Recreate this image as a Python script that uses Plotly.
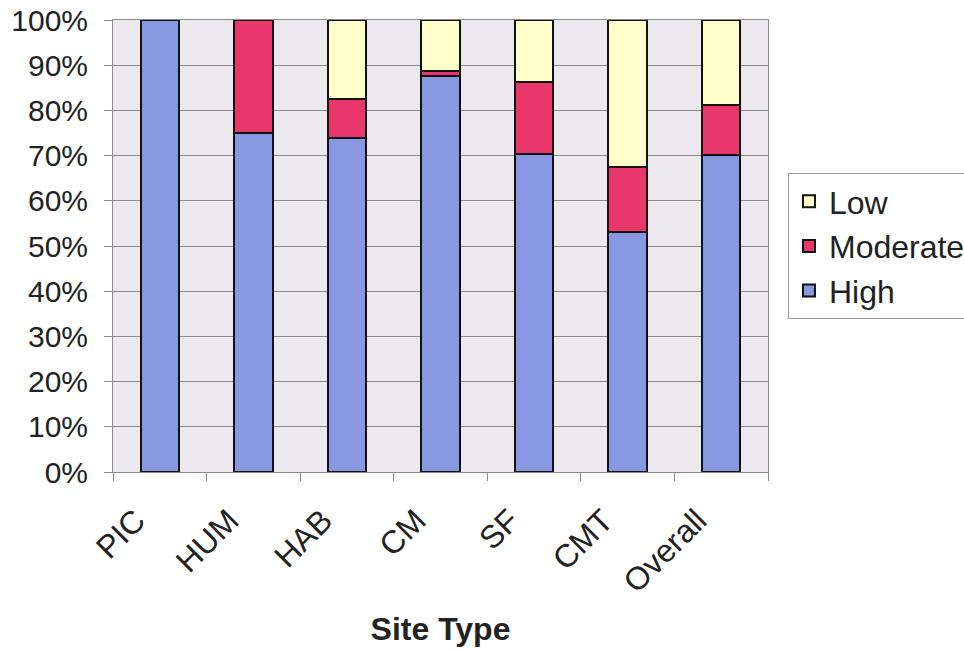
import plotly.graph_objects as go

categories = ["PIC", "HUM", "HAB", "CM", "SF", "CMT", "Overall"]
high = [1.00, 0.75, 0.74, 0.877, 0.704, 0.53, 0.701]
moderate = [0.00, 0.25, 0.085, 0.010, 0.158, 0.145, 0.111]
low = [0.00, 0.00, 0.175, 0.113, 0.138, 0.325, 0.188]

series = [("High", high, "#8797e0"), ("Moderate", moderate, "#e8386b"), ("Low", low, "#ffffcc")]

fig = go.Figure()
for name, vals, col in series:
    fig.add_trace(go.Bar(
        x=categories, y=vals, name=name, legendgroup=name,
        marker=dict(color=col, line=dict(color="#111111", width=2)),
        width=0.41,
    ))

font_family = "Liberation Sans, Arial, sans-serif"
fig.update_layout(
    template="none",
    width=964, height=652,
    barmode="stack",
    margin=dict(l=113, r=196, t=20, b=180, autoexpand=False),
    paper_bgcolor="white",
    plot_bgcolor="#ebe8ee",
    font=dict(family=font_family, size=30, color="#222222"),
    legend=dict(
        x=1.0305, xanchor="left", y=0.5, yanchor="middle",
        traceorder="reversed", tracegroupgap=5,
        bordercolor="#9a9a9a", borderwidth=1, bgcolor="white",
        font=dict(size=32, color="#222222"),
    ),
    showlegend=True,
)
fig.update_yaxes(
    automargin=False,
    range=[0, 1], tickmode="linear", tick0=0, dtick=0.1, tickformat=".0%",
    tickfont=dict(size=30),
    showgrid=True, gridcolor="#8a8a8a", gridwidth=1,
    showline=True, linecolor="#8a8a8a", mirror=True,
    ticks="outside", ticklen=8, tickcolor="#8a8a8a",
    ticklabelstandoff=10,
    zeroline=False,
)
fig.update_xaxes(
    automargin=False,
    tickangle=-45, tickson="boundaries", ticks="outside", ticklen=8, tickcolor="#8a8a8a",
    tickfont=dict(size=32),
    ticklabelshift=-24, ticklabelstandoff=16,
    showline=True, linecolor="#8a8a8a", mirror=True,
    showgrid=False,
    title=dict(text="<b>Site Type</b>", standoff=19, font=dict(size=32, color="#222222")),
)

fig.write_html(
    "out.html",
    config={"displayModeBar": False},
    post_script="document.body.style.margin='0';document.body.style.padding='0';",
)
